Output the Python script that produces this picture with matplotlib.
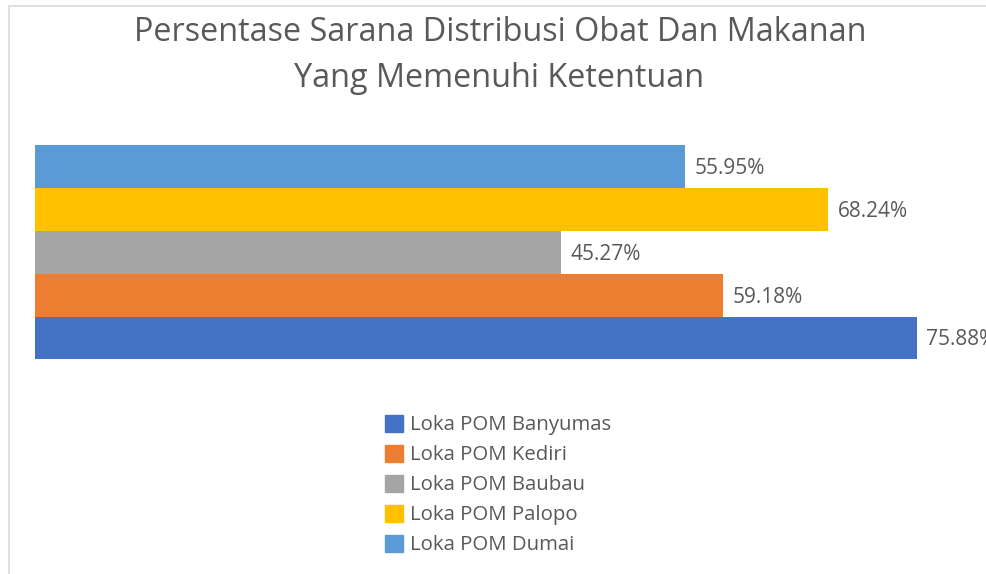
import matplotlib
matplotlib.use("Agg")
import matplotlib.pyplot as plt
from matplotlib.patches import Patch
from matplotlib.lines import Line2D

# Data
series = ["Loka POM Banyumas", "Loka POM Kediri", "Loka POM Baubau",
          "Loka POM Palopo", "Loka POM Dumai"]
values = [75.88, 59.18, 45.27, 68.24, 55.95]
colors = ["#4472C4", "#ED7D31", "#A5A5A5", "#FFC000", "#5B9BD5"]
title_lines = ["Persentase Sarana Distribusi Obat Dan Makanan",
               "Yang Memenuhi Ketentuan"]

FONT = "Open Sans"
TXT = "#595959"
W, H = 986, 574
fig = plt.figure(figsize=(W / 100, H / 100), dpi=100)

# chart border (light gray)
fig.add_artist(Line2D([8.5 / W, 1.0], [1 - 5.5 / H, 1 - 5.5 / H],
                      transform=fig.transFigure, color="#E0E0E0", lw=1.5))
fig.add_artist(Line2D([8.5 / W, 8.5 / W], [0.0, 1 - 5.5 / H],
                      transform=fig.transFigure, color="#E0E0E0", lw=1.5))

# axes placement (pixels)
x0, x1 = 34.7, 986.0
ytop, ybot = 145.3, 359.3
px_per_unit = (916.7 - 34.7) / 75.88
ax = fig.add_axes([x0 / W, 1 - ybot / H, (x1 - x0) / W, (ybot - ytop) / H])
ax.set_xlim(0, (x1 - x0) / px_per_unit)
ax.set_ylim(-0.5, len(values) - 0.5)
ax.axis("off")

for i, (name, v, c) in enumerate(zip(series, values, colors)):
    ax.barh(i, v, height=1.0, color=c, label=name)
    ax.annotate(f"{v:.2f}%", xy=(v, i), xytext=(7.0, -1.5), textcoords="offset points",
                ha="left", va="center", fontsize=15, family=FONT, color=TXT,
                annotation_clip=False, clip_on=False)

# Title
fig.text(500 / W, 1 - 40.7 / H, title_lines[0], ha="center", va="baseline",
         fontsize=23.3, family=FONT, color=TXT)
fig.text(499 / W, 1 - 87.3 / H, title_lines[1], ha="center", va="baseline",
         fontsize=23.3, family=FONT, color=TXT)

# Legend
handles = [Patch(facecolor=c, edgecolor=c) for c in colors]
leg = fig.legend(handles, series, loc="upper left",
                 bbox_to_anchor=(385 / W, 1 - 415 / H),
                 frameon=False, prop={"family": FONT, "size": 14.7},
                 handlelength=0.88, handleheight=0.88, handletextpad=0.35,
                 labelspacing=0.47, borderpad=0, borderaxespad=0)
for t in leg.get_texts():
    t.set_color(TXT)

fig.savefig("out.png", dpi=100)
